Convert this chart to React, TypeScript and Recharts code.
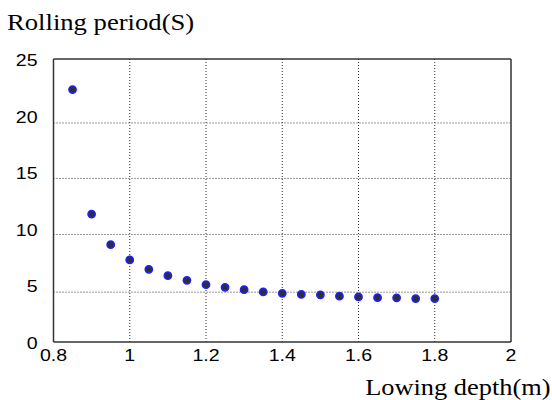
import React from 'react';
import { ScatterChart, Scatter, XAxis, YAxis, CartesianGrid, ReferenceLine } from 'recharts';

const depths = [0.85, 0.9, 0.95, 1.0, 1.05, 1.1, 1.15, 1.2, 1.25, 1.3, 1.35, 1.4, 1.45, 1.5, 1.55, 1.6, 1.65, 1.7, 1.75, 1.8];
const periods = [22.3, 11.3, 8.6, 7.25, 6.42, 5.86, 5.45, 5.06, 4.83, 4.62, 4.42, 4.3, 4.2, 4.17, 4.05, 3.98, 3.92, 3.9, 3.84, 3.84];
const xTicks = [0.8, 1, 1.2, 1.4, 1.6, 1.8, 2];
const yTicks = [0, 5, 10, 15, 20, 25];
const gridYValues = [4.4, 9.5, 14.45, 19.35];
const gridXValues = [1, 1.2, 1.4, 1.6, 1.8];

const data = depths.map((d, i) => ({ x: d, y: periods[i] }));

const Dot = (props: any) => {
  const { cx, cy } = props;
  if (cx == null || cy == null) return null;
  return <circle cx={cx} cy={cy} r={3.6} fill="#2e2e3a" stroke="#1f1fff" strokeWidth={1.6} />;
};

const FONT = '"Liberation Sans", Arial, sans-serif';

const XTick = (props: any) => {
  const { x, y, payload } = props;
  return (
    <g transform={`translate(${x},${y}) scale(1.15,1)`}>
      <text x={0} y={0} dy={13} textAnchor="middle" fill="#000" fontSize={17} fontFamily={FONT}>
        {String(payload.value)}
      </text>
    </g>
  );
};

const YTick = (props: any) => {
  const { x, y, payload } = props;
  return (
    <g transform={`translate(${x},${y}) scale(1.15,1)`}>
      <text x={0} y={0} dy={7} textAnchor="end" fill="#000" fontSize={17} fontFamily={FONT}>
        {String(payload.value)}
      </text>
    </g>
  );
};

export default function App() {
  return (
    <div style={{ position: 'absolute', left: 0, top: 0, width: 552, height: 400, background: '#fff' }}>
      <div
        style={{
          position: 'absolute',
          left: 7,
          top: 8,
          fontFamily: '"Liberation Serif", "Times New Roman", serif',
          fontSize: 24,
          lineHeight: '28px',
          color: '#000',
          transform: 'scaleX(1.11)',
          transformOrigin: 'left top',
          whiteSpace: 'nowrap',
        }}
      >
        Rolling period(S)
      </div>
      <div
        style={{
          position: 'absolute',
          right: 1,
          top: 373,
          fontFamily: '"Liberation Serif", "Times New Roman", serif',
          fontSize: 24,
          lineHeight: '28px',
          color: '#000',
          transform: 'scaleX(1.1)',
          transformOrigin: 'right top',
          whiteSpace: 'nowrap',
        }}
      >
        Lowing depth(m)
      </div>
      <ScatterChart width={552} height={400} margin={{ top: 59, right: 41, bottom: 28, left: 13.5 }}>
        <CartesianGrid
          stroke="#333"
          strokeDasharray="1 2"
          horizontalValues={gridYValues}
          verticalValues={gridXValues}
        />
        <XAxis
          type="number"
          dataKey="x"
          domain={[0.8, 2]}
          ticks={xTicks}
          height={30}
          tickLine={false}
          tickSize={6}
          tickMargin={0}
          axisLine={{ stroke: '#333', strokeWidth: 1.5 }}
          tick={<XTick />}
          interval={0}
          allowDataOverflow
        />
        <YAxis
          type="number"
          dataKey="y"
          domain={[0, 25]}
          ticks={yTicks}
          width={40}
          tickLine={false}
          tickSize={6}
          tickMargin={10}
          axisLine={{ stroke: '#333', strokeWidth: 1.5 }}
          tick={<YTick />}
          interval={0}
          allowDataOverflow
        />
        <ReferenceLine y={25} stroke="#333" strokeWidth={1.5} />
        <ReferenceLine x={2} stroke="#333" strokeWidth={1.5} />
        <Scatter data={data} shape={<Dot />} isAnimationActive={false} />
      </ScatterChart>
    </div>
  );
}
